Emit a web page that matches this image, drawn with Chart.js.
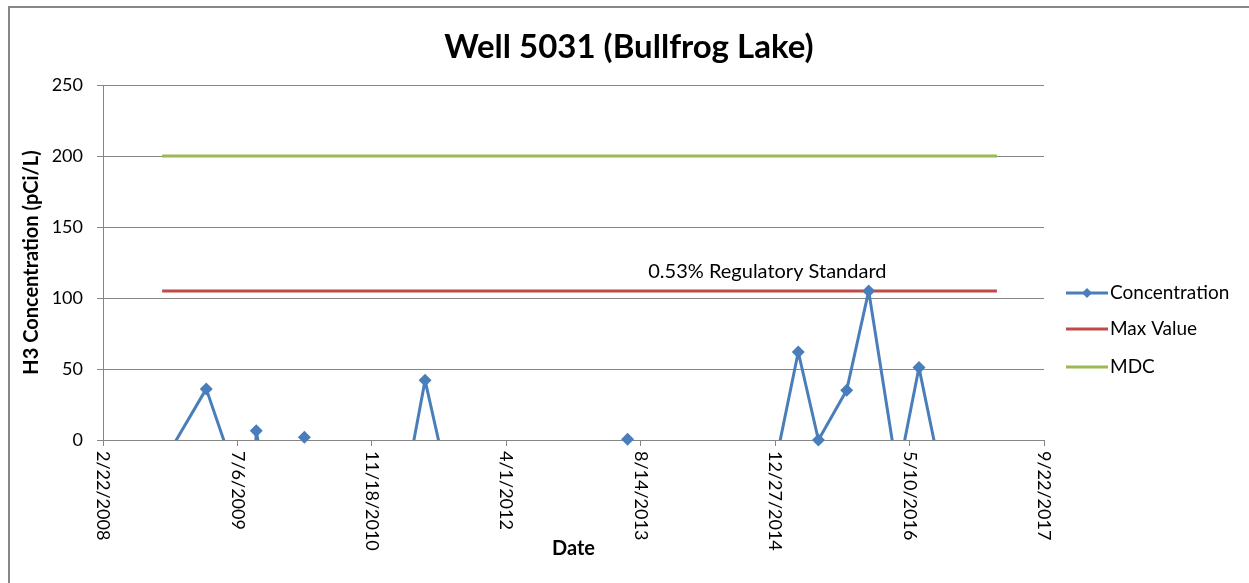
<!DOCTYPE html>
<html>
<head>
<meta charset="utf-8">
<script src="https://cdn.jsdelivr.net/npm/chart.js@4.4.1/dist/chart.umd.min.js"></script>
<style>
  body { margin: 0; background: #fff; }
  #wrap { width: 1249px; height: 583px; position: relative; }
</style>
</head>
<body>
<div id="wrap"><canvas id="myChart"></canvas></div>
<script>
// sample dates and H3 results (negative results fall below the axis and get clipped)
var concDates = ['9/29/2008', '3/12/2009', '7/2/2009', '8/12/2009', '9/14/2009', '12/13/2009',
  '3/12/2010', '6/17/2010', '10/26/2010', '3/5/2011', '6/4/2011', '9/15/2011',
  '1/16/2012', '5/7/2012', '8/26/2012', '12/16/2012', '3/19/2013', '6/26/2013',
  '9/22/2013', '1/12/2014', '5/3/2014', '8/23/2014', '11/24/2014', '3/23/2015',
  '6/6/2015', '9/19/2015', '12/10/2015', '3/27/2016', '6/14/2016', '9/7/2016',
  '12/20/2016', '3/31/2017'];
var concValues = [-17, 36, -26, -160, 6.5, -90,
  2, -120, -60, -50, 42, -45,
  -70, -40, -85, -55, -95, 0.5,
  -75, -40, -110, -65, -48, 62,
  0, 35, 105, -25, 51, -27,
  -60, -40];

var limitDates = ['9/29/2008', '3/31/2017'];
var maxValues = [105, 105];
var mdcValues = [200, 200];

var xTickStart = '2/22/2008';
var xTickEnd = '9/22/2017';
var xTickStep = 500; // days
var yTicks = [0, 50, 100, 150, 200, 250];

var chartTitle = 'Well 5031 (Bullfrog Lake)';
var yTitle = 'H3 Concentration (pCi/L)';
var xTitle = 'Date';
var annotText = '0.53% Regulatory Standard';
var annotDate = '11/28/2014';

var blue = '#4A7EBB';
var red = '#BE4B48';
var green = '#98B954';
var gridGray = '#868686';

// excel style serial numbers so ticks land on 2/22/2008 + n*500
function toSerial(s) {
  var p = s.split('/');
  var ms = Date.UTC(+p[2], +p[0] - 1, +p[1]) - Date.UTC(1899, 11, 30);
  return Math.round(ms / 86400000);
}
function fromSerial(n) {
  var d = new Date(Date.UTC(1899, 11, 30) + n * 86400000);
  return (d.getUTCMonth() + 1) + '/' + d.getUTCDate() + '/' + d.getUTCFullYear();
}

var concPts = concDates.map(function (d, i) { return { x: toSerial(d), y: concValues[i] }; });
var markerPts = concPts.filter(function (p) { return p.y >= 0; });
var maxPts = limitDates.map(function (d, i) { return { x: toSerial(d), y: maxValues[i] }; });
var mdcPts = limitDates.map(function (d, i) { return { x: toSerial(d), y: mdcValues[i] }; });

Chart.defaults.font.family = 'Lato';
Chart.defaults.color = '#000';

var extras = {
  id: 'extras',
  afterDraw: function (chart) {
    var ctx = chart.ctx;
    var xs = chart.scales.x;
    var ys = chart.scales.y;
    ctx.save();

    // title
    ctx.fillStyle = '#000';
    ctx.font = 'bold 33px Lato';
    ctx.textAlign = 'center';
    ctx.textBaseline = 'middle';
    ctx.fillText(chartTitle, 629, 47);

    // rotated date labels (read top to bottom)
    ctx.font = '18px Lato';
    xs.ticks.forEach(function (t) {
      var px = xs.getPixelForValue(t.value);
      ctx.save();
      ctx.translate(px, xs.top + 11);
      ctx.rotate(Math.PI / 2);
      ctx.textAlign = 'left';
      ctx.textBaseline = 'middle';
      ctx.fillText(fromSerial(t.value), 0, 0);
      ctx.restore();
    });

    // x title
    ctx.font = 'bold 20px Lato';
    ctx.textAlign = 'center';
    ctx.textBaseline = 'middle';
    ctx.fillText(xTitle, (xs.left + xs.right) / 2, 549);

    // label over the red line
    ctx.font = '20px Lato';
    ctx.textBaseline = 'bottom';
    ctx.fillText(annotText, xs.getPixelForValue(toSerial(annotDate)), ys.getPixelForValue(maxValues[0]) - 9);

    // legend
    ctx.font = '19px Lato';
    ctx.textAlign = 'left';
    ctx.textBaseline = 'middle';
    var legY = [293, 329, 367];
    [0, 2, 3].forEach(function (di, k) {
      var ds = chart.data.datasets[di];
      var y = legY[k];
      ctx.strokeStyle = ds.borderColor;
      ctx.lineWidth = 3;
      ctx.beginPath();
      ctx.moveTo(1066, y);
      ctx.lineTo(1108, y);
      ctx.stroke();
      if (di === 0) {
        ctx.fillStyle = ds.borderColor;
        ctx.beginPath();
        ctx.moveTo(1087, y - 5);
        ctx.lineTo(1092, y);
        ctx.lineTo(1087, y + 5);
        ctx.lineTo(1082, y);
        ctx.closePath();
        ctx.fill();
      }
      ctx.fillStyle = '#000';
      ctx.fillText(ds.label, 1110, y);
    });

    // outer frame
    ctx.strokeStyle = '#878787';
    ctx.lineWidth = 2;
    ctx.strokeRect(9, 7, 1300, 700);
    ctx.restore();
  }
};

var ctxEl = document.getElementById('myChart');
var myChart = new Chart(ctxEl, {
  type: 'line',
  data: {
    datasets: [
      {
        label: 'Concentration',
        data: concPts,
        borderColor: blue,
        backgroundColor: blue,
        borderWidth: 3,
        borderJoinStyle: 'round',
        pointRadius: 0,
        tension: 0,
        clip: { left: 5, top: 5, right: 5, bottom: 0 }
      },
      {
        label: 'markers',
        data: markerPts,
        showLine: false,
        pointStyle: 'rectRot',
        pointRadius: 6.5,
        pointBorderWidth: 0,
        backgroundColor: blue,
        borderColor: blue,
        clip: false
      },
      {
        label: 'Max Value',
        data: maxPts,
        borderColor: red,
        backgroundColor: red,
        borderWidth: 3,
        pointRadius: 0,
        tension: 0
      },
      {
        label: 'MDC',
        data: mdcPts,
        borderColor: green,
        backgroundColor: green,
        borderWidth: 3,
        pointRadius: 0,
        tension: 0
      }
    ]
  },
  options: {
    responsive: true,
    maintainAspectRatio: false,
    animation: false,
    layout: { padding: { left: 0, top: 85, right: 205, bottom: 0 } },
    plugins: {
      legend: { display: false },
      title: { display: false },
      tooltip: { enabled: false }
    },
    scales: {
      x: {
        type: 'linear',
        min: toSerial(xTickStart),
        max: toSerial(xTickEnd),
        ticks: { display: false, stepSize: xTickStep },
        grid: { drawOnChartArea: false, drawTicks: true, tickLength: 6, color: gridGray },
        border: { color: gridGray },
        afterFit: function (scale) { scale.height = 143; }
      },
      y: {
        min: yTicks[0],
        max: yTicks[yTicks.length - 1],
        afterBuildTicks: function (scale) {
          scale.ticks = yTicks.map(function (v) { return { value: v }; });
        },
        ticks: { font: { size: 18 }, color: '#000', padding: 14 },
        grid: { color: gridGray, tickLength: 6 },
        border: { color: gridGray },
        title: {
          display: true,
          text: yTitle,
          font: { size: 20, weight: 'bold' },
          color: '#000',
          padding: { top: 20, bottom: 0 }
        },
        afterFit: function (scale) { scale.width = 103; }
      }
    }
  },
  plugins: [extras]
});
</script>
</body>
</html>
